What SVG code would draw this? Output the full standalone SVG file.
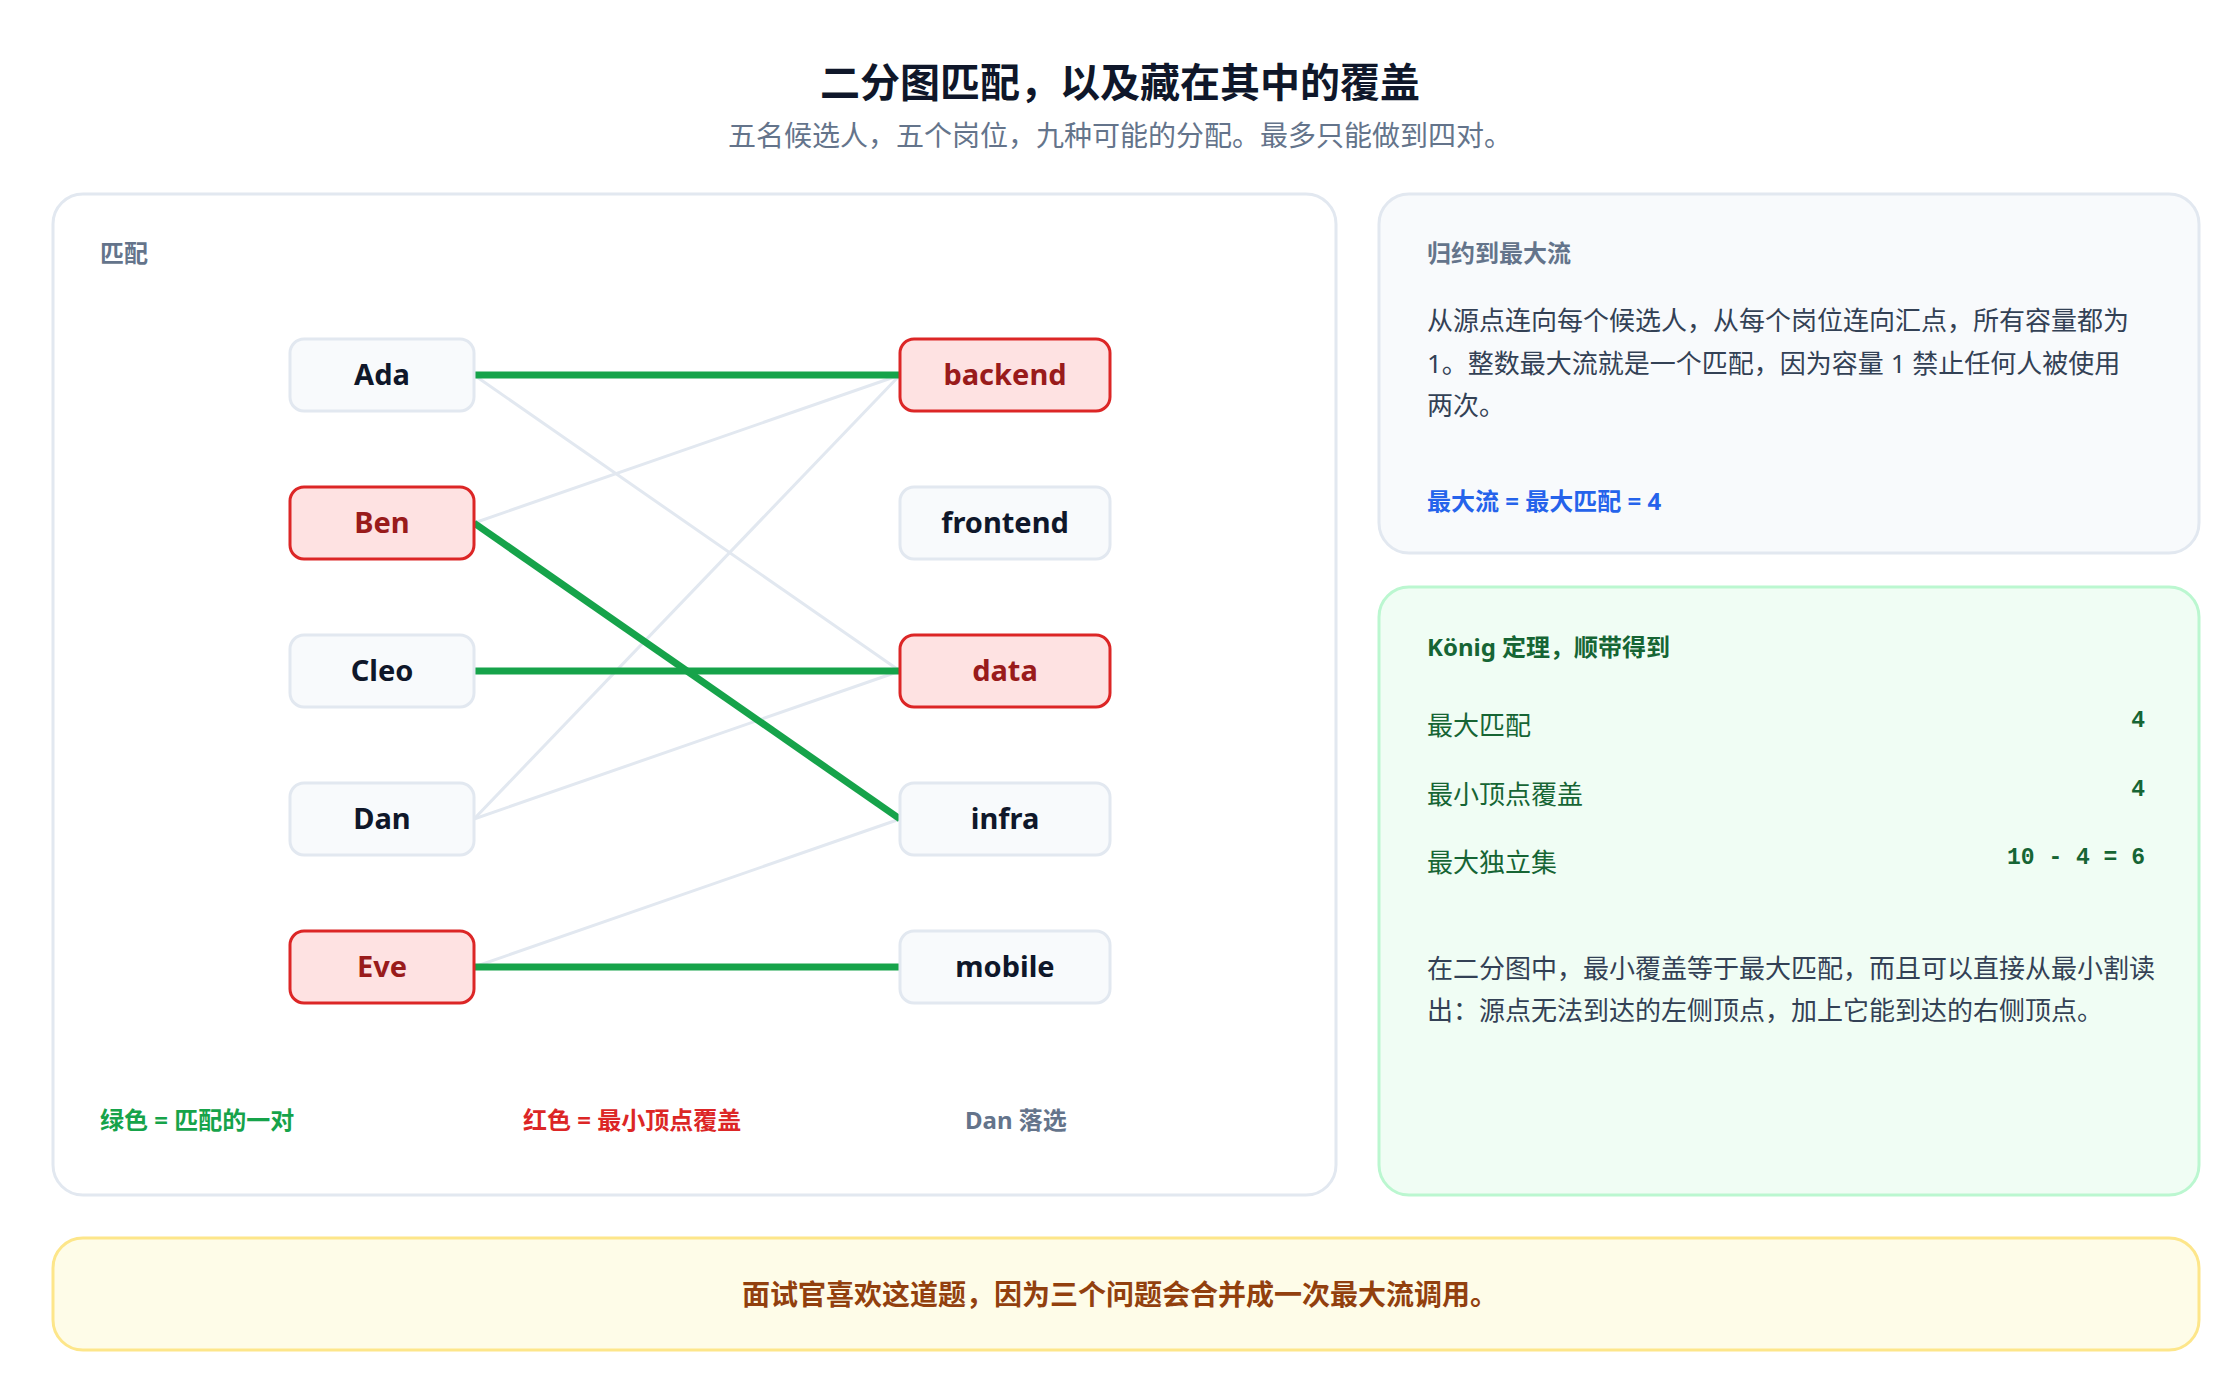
<svg xmlns="http://www.w3.org/2000/svg" width="2240" height="1400" viewBox="0 0 2240 1400">
<style>
text{font-family:"Noto Sans","Noto Sans CJK SC",sans-serif}
.n rect{fill:#f8fafc;stroke:#e2e8f0;stroke-width:3}
.n text{font-size:29px;font-weight:700;fill:#0f172a;text-anchor:middle}
.c rect{fill:#fee2e2;stroke:#dc2626;stroke-width:3}
.c text{fill:#991b1b}
.e{stroke:#e2e8f0;stroke-width:3}
.m{stroke:#16a34a;stroke-width:7}
.b{font-size:26px;fill:#334155}
.k{font-size:26px;fill:#166534}
.h{font-size:24px;font-weight:700}
.mono{font-family:"Liberation Mono",monospace;font-size:23px;font-weight:700;fill:#166534;text-anchor:end}
</style>
<rect width="2240" height="1400" fill="#fff"/>
<text x="1120" y="97" text-anchor="middle" font-size="40" font-weight="700" fill="#0f172a">二分图匹配，以及藏在其中的覆盖</text>
<text x="1120" y="146" text-anchor="middle" font-size="28" fill="#64748b">五名候选人，五个岗位，九种可能的分配。最多只能做到四对。</text>
<rect x="53" y="194" width="1283" height="1001" rx="30" fill="#fff" stroke="#e2e8f0" stroke-width="3"/>
<text x="100" y="262" class="h" fill="#64748b">匹配</text>
<g id="connectors">
<line class="e" x1="474" y1="375" x2="900" y2="671"/>
<line class="e" x1="474" y1="523" x2="900" y2="375"/>
<line class="e" x1="474" y1="819" x2="900" y2="375"/>
<line class="e" x1="474" y1="819" x2="900" y2="671"/>
<line class="e" x1="474" y1="967" x2="900" y2="819"/>
<line class="m" x1="474" y1="375" x2="900" y2="375"/>
<line class="m" x1="474" y1="523" x2="900" y2="819"/>
<line class="m" x1="474" y1="671" x2="900" y2="671"/>
<line class="m" x1="474" y1="967" x2="900" y2="967"/>
</g>
<g id="ada" class="n"><rect x="290" y="339" width="184" height="72" rx="14"/><text x="382" y="385">Ada</text></g>
<g id="ben" class="n c"><rect x="290" y="487" width="184" height="72" rx="14"/><text x="382" y="533">Ben</text></g>
<g id="cleo" class="n"><rect x="290" y="635" width="184" height="72" rx="14"/><text x="382" y="681">Cleo</text></g>
<g id="dan" class="n"><rect x="290" y="783" width="184" height="72" rx="14"/><text x="382" y="829">Dan</text></g>
<g id="eve" class="n c"><rect x="290" y="931" width="184" height="72" rx="14"/><text x="382" y="977">Eve</text></g>
<g id="backend" class="n c"><rect x="900" y="339" width="210" height="72" rx="14"/><text x="1005" y="385">backend</text></g>
<g id="frontend" class="n"><rect x="900" y="487" width="210" height="72" rx="14"/><text x="1005" y="533">frontend</text></g>
<g id="data" class="n c"><rect x="900" y="635" width="210" height="72" rx="14"/><text x="1005" y="681">data</text></g>
<g id="infra" class="n"><rect x="900" y="783" width="210" height="72" rx="14"/><text x="1005" y="829">infra</text></g>
<g id="mobile" class="n"><rect x="900" y="931" width="210" height="72" rx="14"/><text x="1005" y="977">mobile</text></g>
<text x="100" y="1129" class="h" fill="#16a34a" xml:space="preserve">绿色 = 匹配的一对</text>
<text x="523" y="1129" class="h" fill="#dc2626">红色 = 最小顶点覆盖</text>
<text x="965" y="1129" class="h" fill="#64748b">Dan 落选</text>
<g id="flow">
<rect x="1379" y="194" width="820" height="359" rx="30" fill="#f8fafc" stroke="#e2e8f0" stroke-width="3"/>
<text x="1427" y="262" class="h" fill="#64748b">归约到最大流</text>
<text x="1427" y="330" class="b">从源点连向每个候选人，从每个岗位连向汇点，所有容量都为</text>
<text x="1427" y="373" class="b">1。整数最大流就是一个匹配，因为容量 1 禁止任何人被使用</text>
<text x="1427" y="415" class="b">两次。</text>
<text x="1427" y="510" class="h" fill="#2563eb">最大流 = 最大匹配 = 4</text>
</g>
<g id="konig">
<rect x="1379" y="587" width="820" height="608" rx="30" fill="#f0fdf4" stroke="#bbf7d0" stroke-width="3"/>
<text x="1427" y="656" class="h" fill="#166534">König 定理，顺带得到</text>
<text x="1427" y="735" class="k">最大匹配</text>
<text x="1427" y="804" class="k">最小顶点覆盖</text>
<text x="1427" y="872" class="k">最大独立集</text>
<text x="2145" y="727" class="mono">4</text>
<text x="2145" y="796" class="mono">4</text>
<text x="2145" y="864" class="mono">10 - 4 = 6</text>
<text x="1427" y="978" class="b">在二分图中，最小覆盖等于最大匹配，而且可以直接从最小割读</text>
<text x="1427" y="1020" class="b">出：源点无法到达的左侧顶点，加上它能到达的右侧顶点。</text>
</g>
<g id="banner">
<rect x="53" y="1238" width="2146" height="112" rx="30" fill="#fefce8" stroke="#fde68a" stroke-width="3"/>
<text x="1120" y="1305" text-anchor="middle" font-size="28" font-weight="700" fill="#92400e">面试官喜欢这道题，因为三个问题会合并成一次最大流调用。</text>
</g>
</svg>
